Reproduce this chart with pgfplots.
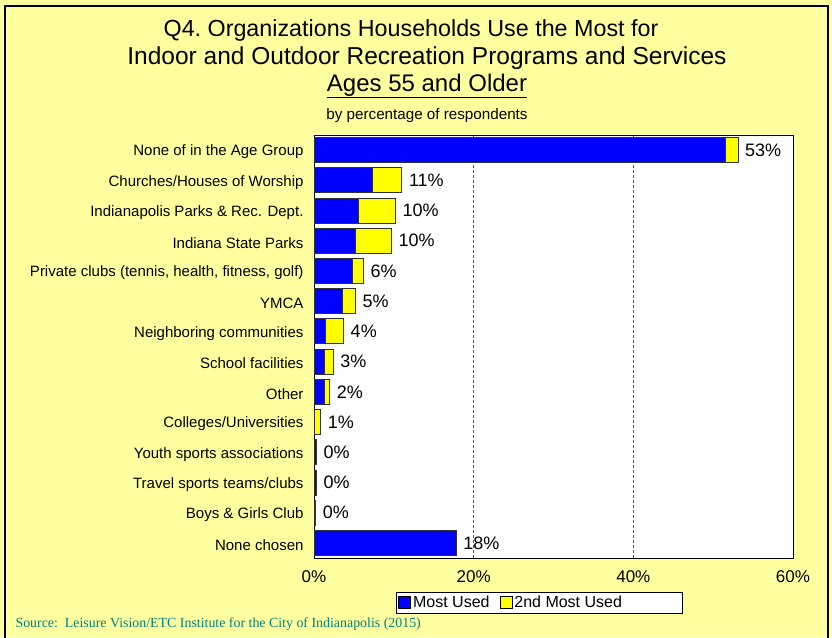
\documentclass[border=0pt]{standalone}
\usepackage{pgfplots}
\pgfplotsset{compat=1.18}
\usepackage{fontspec}
\setmainfont{Liberation Sans}
\newfontfamily\srcfont{Liberation Serif}
\definecolor{bgyellow}{RGB}{255,255,160}
\definecolor{srcteal}{RGB}{0,128,128}
\definecolor{barblue}{RGB}{0,0,255}
\definecolor{baryellow}{RGB}{255,255,0}
\definecolor{baredge}{RGB}{50,50,50}
\begin{document}
\begin{tikzpicture}
\useasboundingbox (0pt,0pt) rectangle (832pt,637pt);
\fill[bgyellow] (0pt,0pt) rectangle (832pt,637pt);
\draw[black, line width=1.5pt] (5pt,-3pt) -- (5pt,631pt) -- (828pt,631pt) -- (828pt,-3pt);
\node[font=\fontsize{23.3}{28}\selectfont] at (411pt,607pt) {Q4.\ Organizations Households Use the Most for};
\node[font=\fontsize{24.5}{28}\selectfont] at (427pt,579pt) {Indoor and Outdoor Recreation Programs and Services};
\node[font=\fontsize{24}{28}\selectfont] at (427pt,551pt) {\underline{Ages 55 and Older}};
\node[font=\fontsize{15.2}{17}\selectfont] at (427pt,521pt) {by percentage of respondents};
\node[anchor=west, font=\srcfont\fontsize{13.9}{15}\selectfont, text=srcteal] at (12pt,13pt) {Source:\ \ Leisure Vision/ETC Institute for the City of Indianapolis (2015)};
\begin{axis}[
  at={(314pt,79pt)}, anchor=south west,
  scale only axis, width=479pt, height=423pt,
  xbar stacked, bar width=25pt,
  xmin=0, xmax=60, ymin=-0.5, ymax=13.5,
  y dir=reverse,
  axis background/.style={fill=white},
  axis line style={black, line width=0.8pt},
  ytick={0,...,13},
  yticklabels={None of in the Age Group, Churches/Houses of Worship, Indianapolis Parks \& Rec. Dept., Indiana State Parks, {Private clubs (tennis, health, fitness, golf)}, YMCA, Neighboring communities, School facilities, Other, Colleges/Universities, Youth sports associations, Travel sports teams/clubs, Boys \& Girls Club, None chosen},
  yticklabel style={font=\fontsize{15}{17}\selectfont, xshift=-7pt, yshift=-2pt},
  xtick={0,20,40,60},
  xticklabel={\pgfmathprintnumber{\tick}\%},
  xticklabel style={font=\fontsize{17}{19}\selectfont, yshift=-9pt},
  /pgf/number format/assume math mode=true,
  major tick length=0pt,
  xmajorgrids, grid style={densely dashed, gray!70!black, line width=0.8pt},
  legend style={at={(axis description cs:0.171,-0.08)}, anchor=north west, legend columns=2, draw=black, line width=0.8pt, fill=white, font=\fontsize{16}{18}\selectfont, inner sep=2pt, /tikz/every even column/.append style={column sep=8pt}},
  legend image code/.code={\draw[#1, draw=black, line width=0.8pt] (0pt,-6pt) rectangle (12pt,6pt);},
]
\addplot[fill=barblue, draw=baredge, line width=0.8pt] coordinates {
(51.5,0) (7.3,1) (5.5,2) (5.2,3) (4.8,4) (3.6,5) (1.4,6) (1.25,7) (1.25,8) (0.1,9) (0.3,10) (0.3,11) (0,12) (17.8,13)};
\addplot[fill=baryellow, draw=baredge, line width=0.8pt] coordinates {
(1.6,0) (3.7,1) (4.7,2) (4.5,3) (1.4,4) (1.6,5) (2.3,6) (1.15,7) (0.7,8) (0.75,9) (0,10) (0,11) (0.2,12) (0,13)};
\addplot[draw=none, fill=none, nodes near coords, point meta=explicit symbolic,
  nodes near coords style={anchor=west, font=\fontsize{18}{20}\selectfont, text=black, inner sep=0pt, xshift=7pt}] coordinates {
(0.001,0) [53\%] (0.001,1) [11\%] (0.001,2) [10\%] (0.001,3) [10\%] (0.001,4) [6\%] (0.001,5) [5\%] (0.001,6) [4\%] (0.001,7) [3\%] (0.001,8) [2\%] (0.001,9) [1\%] (0.001,10) [0\%] (0.001,11) [0\%] (0.001,12) [0\%] (0.001,13) [18\%]};
\legend{Most Used, \makebox[164pt][l]{2nd Most Used}}
\end{axis}
\end{tikzpicture}
\end{document}
